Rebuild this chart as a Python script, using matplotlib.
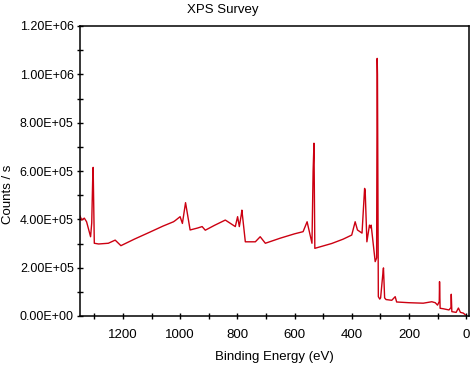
import numpy as np
import matplotlib
matplotlib.use("Agg")
import matplotlib.pyplot as plt
from matplotlib.ticker import MultipleLocator, FuncFormatter

# survey spectrum: binding energy (eV) vs counts/s
energy = [1350, 1344, 1335, 1327, 1313, 1309, 1305, 1304, 1300, 1285, 1251,
          1227, 1207, 1160, 1104, 1060, 1023, 1017, 1000, 992, 981, 965, 939,
          923, 912, 880, 842, 807, 799, 793, 786, 784, 772, 737, 720, 702,
          650, 600, 570, 556, 539, 535, 532, 529, 470, 430, 400, 388, 380,
          364, 355, 353, 347, 338, 334, 332, 329, 318, 313, 311, 310, 307,
          302, 299, 290, 289, 285, 280, 260, 248, 243, 200, 150, 120, 108,
          100, 94, 93, 91, 80, 60, 53, 52, 50, 35, 27, 20, 10, 3]
counts = [414e3, 397e3, 405e3, 390e3, 328e3, 385e3, 600e3, 615e3, 301e3,
          298e3, 301e3, 314e3, 291e3, 318e3, 348e3, 372e3, 390e3, 395e3,
          411e3, 383e3, 469e3, 356e3, 364e3, 370e3, 355e3, 375e3, 397e3,
          370e3, 411e3, 370e3, 420e3, 438e3, 307e3, 307e3, 328e3, 301e3,
          322e3, 340e3, 349e3, 390e3, 301e3, 600e3, 715e3, 280e3, 300e3,
          318e3, 335e3, 390e3, 356e3, 343e3, 528e3, 520e3, 307e3, 376e3,
          365e3, 376e3, 343e3, 225e3, 240e3, 1066e3, 1000e3, 80e3, 70e3,
          75e3, 190e3, 199e3, 75e3, 68e3, 65e3, 80e3, 58e3, 55e3, 53e3,
          59e3, 55e3, 45e3, 60e3, 142e3, 32e3, 30e3, 25e3, 35e3, 90e3, 18e3,
          15e3, 33e3, 15e3, 12e3, 5e3]

plt.rcParams['font.family'] = ['Liberation Sans', 'DejaVu Sans']
plt.rcParams['font.size'] = 9.5

fig = plt.figure(figsize=(4.75, 3.65), dpi=100)
ax = fig.add_axes([80/475, 49/365, 389/475, 290/365])

ax.plot(energy, counts, color='#cc0011', lw=1.0)

ax.set_xlim(1350, -10)
ax.set_ylim(0, 1.2e6)
ax.xaxis.set_major_locator(MultipleLocator(200))
ax.xaxis.set_minor_locator(MultipleLocator(100))
ax.yaxis.set_major_locator(MultipleLocator(2e5))
ax.yaxis.set_minor_locator(MultipleLocator(1e5))
ax.yaxis.set_major_formatter(FuncFormatter(lambda v, p: '{:.2E}'.format(v)))

ax.tick_params(which='both', direction='inout', length=5, width=1,
               top=False, right=False, labelsize=9.5, colors='black')
ax.tick_params(axis='x', pad=7)
ax.tick_params(axis='y', labelsize=9, pad=2)
for s in ax.spines.values():
    s.set_linewidth(1.1)

ax.set_xlabel('Binding Energy (eV)', fontsize=9.5, labelpad=7)
fig.text(8/475, 171/365, 'Counts / s', rotation=90, ha='center', va='center',
         fontsize=9.5)
fig.text(223/475, 1 - 10/365, 'XPS Survey', ha='center', va='center', fontsize=9.5)

fig.savefig('out.png', dpi=100)
